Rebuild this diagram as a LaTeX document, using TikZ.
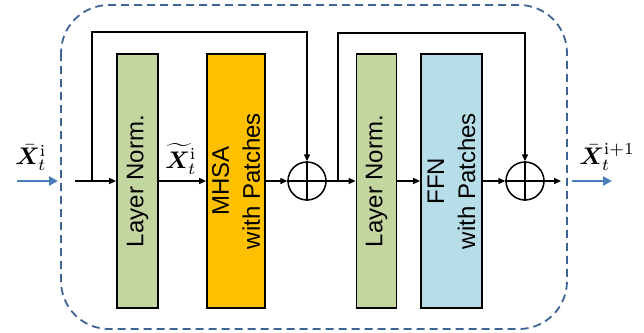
\documentclass[tikz,border=0pt]{standalone}
\usepackage{amsmath,bm}
\usepackage{fontspec}
\newfontfamily\boxfont{Liberation Sans}
\usetikzlibrary{arrows.meta,shapes.geometric}

\definecolor{normgreen}{RGB}{196,214,160}
\definecolor{attnorange}{RGB}{255,192,0}
\definecolor{ffnblue}{RGB}{183,222,232}
\definecolor{frameblue}{RGB}{62,100,150}
\definecolor{ioblue}{RGB}{74,126,187}

\newcommand{\biglabel}[1]{\scalebox{2.4}{$#1$}}

\tikzset{
  block/.style={draw=black, line width=1.8pt, rotate=90, minimum height=#1,
    minimum width=254pt, inner sep=0pt, align=center,
    font=\boxfont\fontsize{24}{31}\selectfont},
  addop/.style={draw=black, line width=1.5pt, circle, minimum size=38pt, inner sep=0pt},
  conn/.style={draw=black, line width=1.4pt},
  flow/.style={conn, -{Triangle[length=7pt,width=6pt]}},
  ioarrow/.style={draw=ioblue, line width=2.6pt, -{Triangle[length=9pt,width=9pt]}},
  frame/.style={draw=frameblue, line width=1.8pt, dash pattern=on 8pt off 5pt,
    rounded corners=48pt},
  vec/.style={inner sep=0pt}
}

\begin{document}
\begin{tikzpicture}[x=1pt,y=-1pt]
  \useasboundingbox (0,0) rectangle (644,332);

  % outer block frame
  \draw[frame] (61,5) rectangle (567,329);

  % layers
  \node[block=41pt, fill=normgreen] (ln1) at (137.5,181) {Layer Norm.};
  \node[block=58pt, fill=attnorange] (mhsa) at (236,181) {MHSA\\with Patches};
  \node[addop] (add1) at (307,181) {};
  \node[block=40pt, fill=normgreen] (ln2) at (376.5,181) {Layer Norm.};
  \node[block=61pt, fill=ffnblue] (ffn) at (451.5,181) {FFN\\with Patches};
  \node[addop] (add2) at (525,181) {};

  % plus signs inside the adders
  \draw[conn] (add1.north) -- (add1.south) (add1.west) -- (add1.east);
  \draw[conn] (add2.north) -- (add2.south) (add2.west) -- (add2.east);

  % main path
  \coordinate (in) at (75,181);
  \coordinate (b1) at (92,181);
  \coordinate (b2) at (338,181);
  \coordinate (out) at (561,181);
  \draw[flow] (in) -- (ln1);
  \draw[flow] (ln1) -- (mhsa);
  \draw[flow] (mhsa) -- (add1);
  \draw[flow] (add1) -- (ln2);
  \draw[flow] (ln2) -- (ffn);
  \draw[flow] (ffn) -- (add2);
  \draw[flow] (add2) -- (out);

  % residual connections
  \coordinate (r1a) at (92,32);
  \coordinate (r1b) at (add1 |- r1a);
  \draw[flow] (b1) -- (r1a) -- (r1b) -- (add1);
  \coordinate (r2a) at (338,33);
  \coordinate (r2b) at (add2 |- r2a);
  \draw[flow] (b2) -- (r2a) -- (r2b) -- (add2);

  % input / output
  \coordinate (xin0) at (17,181);
  \coordinate (xin1) at (58,181);
  \coordinate (xout0) at (572,181);
  \coordinate (xout1) at (612,181);
  \draw[ioarrow] (xin0) -- (xin1);
  \draw[ioarrow] (xout0) -- (xout1);

  % signal labels
  \node[vec] (lin) at (31,158) {\biglabel{\bar{\bm{X}}_t^{\mathrm{i}}}};
  \node[vec] (lmid) at (181,159) {\biglabel{\widetilde{\bm{X}}_t^{\mathrm{i}}}};
  \node[vec] (lout) at (607,157) {\biglabel{\bar{\bm{X}}_t^{\mathrm{i+1}}}};
\end{tikzpicture}
\end{document}
